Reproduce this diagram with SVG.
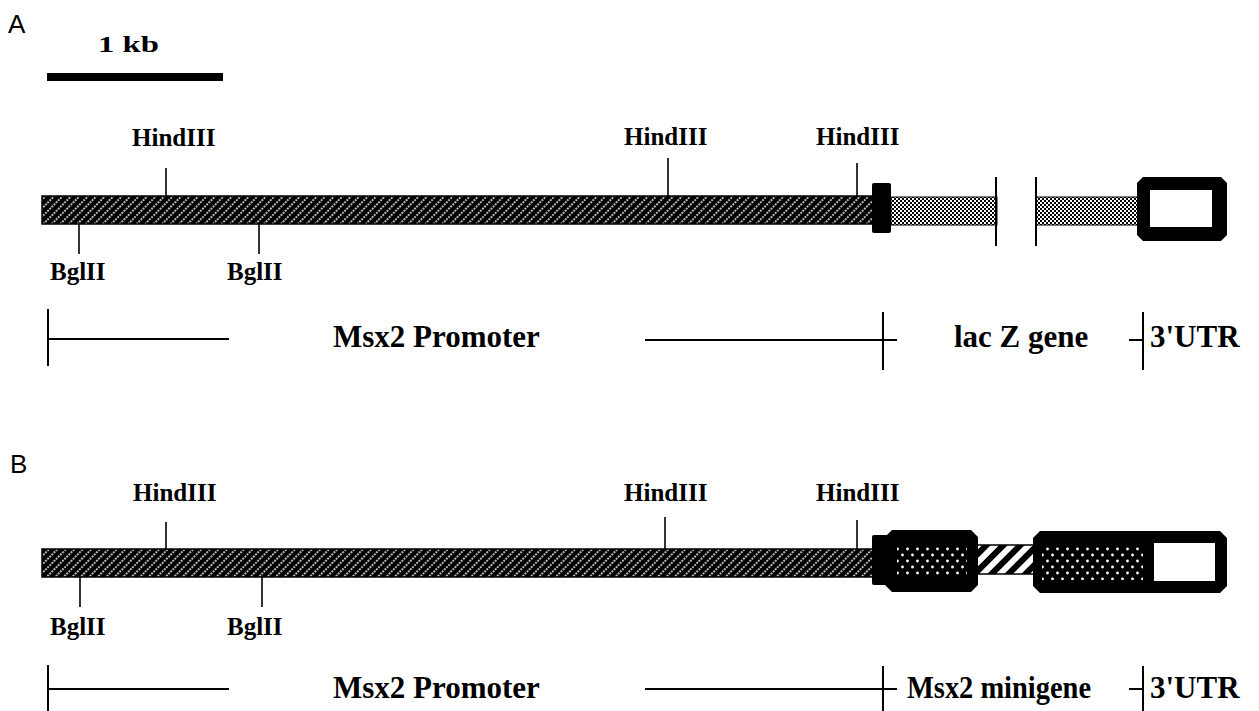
<svg xmlns="http://www.w3.org/2000/svg" width="1259" height="711" viewBox="0 0 1259 711">
<style>
.lbl{font-family:"Liberation Serif","Times New Roman",serif;font-weight:bold;fill:#000}
.site{font-size:25px}
.big{font-size:31px}
.panel{font-family:"Liberation Sans",Arial,sans-serif;font-size:26px;fill:#000}
.ln{stroke:#000;stroke-width:2;fill:none}
.tk{stroke:#000;stroke-width:1.6;fill:none}
</style>
<defs>
<pattern id="hatch" width="6" height="6" patternUnits="userSpaceOnUse" patternTransform="rotate(45)">
<rect width="6" height="6" fill="#000"/>
<line x1="3" y1="0" x2="3" y2="6" stroke="#fff" stroke-width="1.4" stroke-dasharray="2 1"/>
</pattern>
<pattern id="checker" width="4" height="4" patternUnits="userSpaceOnUse">
<rect width="4" height="4" fill="#fff"/>
<rect width="2" height="2" fill="#000"/>
<rect x="2" y="2" width="2" height="2" fill="#000"/>
</pattern>
<pattern id="dots" width="10" height="12" patternUnits="userSpaceOnUse">
<rect width="10" height="12" fill="#000"/>
<circle cx="2.5" cy="3" r="1.4" fill="#fff"/>
<circle cx="7.5" cy="9" r="1.4" fill="#fff"/>
</pattern>
<pattern id="stripes" width="12" height="12" patternUnits="userSpaceOnUse" patternTransform="rotate(45)">
<rect width="12" height="12" fill="#fff"/>
<rect x="0" y="0" width="6" height="12" fill="#000"/>
</pattern>
</defs>
<rect width="1259" height="711" fill="#fff"/>

<g id="panelA">
<text class="panel" x="8" y="33">A</text>
<g id="scalebar">
<rect x="47" y="73" width="176" height="8" fill="#000"/>
<text class="lbl" x="98" y="52" font-size="23" textLength="61" lengthAdjust="spacingAndGlyphs">1 kb</text>
</g>
<g id="A-promoter">
<rect x="42" y="196" width="835" height="28" fill="url(#hatch)" stroke="#000" stroke-width="1.5"/>
</g>
<g id="A-sites">
<line class="tk" x1="166" y1="168" x2="166" y2="196"/>
<line class="tk" x1="668" y1="158" x2="668" y2="196"/>
<line class="tk" x1="857" y1="163" x2="857" y2="196"/>
<line class="tk" x1="79" y1="224" x2="79" y2="254"/>
<line class="tk" x1="259" y1="224" x2="259" y2="254"/>
<text class="lbl site" x="132" y="146">HindIII</text>
<text class="lbl site" x="624" y="145">HindIII</text>
<text class="lbl site" x="816" y="145">HindIII</text>
<text class="lbl site" x="50" y="280">BglII</text>
<text class="lbl site" x="227" y="280">BglII</text>
</g>
<g id="A-lacZ">
<rect x="891" y="197" width="106" height="28" fill="url(#checker)" stroke="#000" stroke-width="1"/>
<rect x="1036" y="197" width="105" height="28" fill="url(#checker)" stroke="#000" stroke-width="1"/>
<line class="ln" x1="996" y1="177" x2="996" y2="246"/>
<line class="ln" x1="1036" y1="177" x2="1036" y2="246"/>
<rect x="872" y="183" width="19" height="50" rx="2" fill="#000"/>
</g>
<g id="A-utr">
<polygon points="1143,177 1221,177 1227,183 1227,235 1221,241 1143,241 1137,235 1137,183" fill="#000"/>
<rect x="1150" y="190" width="62" height="37" fill="#fff"/>
</g>
<g id="A-labels">
<line class="ln" x1="48" y1="309" x2="48" y2="366"/>
<line class="ln" x1="48" y1="339" x2="229" y2="339"/>
<text class="lbl big" x="333" y="347">Msx2 Promoter</text>
<line class="ln" x1="645" y1="340" x2="897" y2="340"/>
<line class="ln" x1="883" y1="312" x2="883" y2="370"/>
<text class="lbl big" x="954" y="347">lac Z gene</text>
<line class="ln" x1="1129" y1="340" x2="1143" y2="340"/>
<line class="ln" x1="1143" y1="312" x2="1143" y2="370"/>
<text class="lbl big" x="1150" y="347">3'UTR</text>
</g>
</g>

<g id="panelB">
<text class="panel" x="10" y="473">B</text>
<g id="B-promoter">
<rect x="42" y="549" width="835" height="28" fill="url(#hatch)" stroke="#000" stroke-width="1.5"/>
</g>
<g id="B-sites">
<line class="tk" x1="166" y1="522" x2="166" y2="549"/>
<line class="tk" x1="665" y1="517" x2="665" y2="549"/>
<line class="tk" x1="857" y1="520" x2="857" y2="549"/>
<line class="tk" x1="80" y1="577" x2="80" y2="607"/>
<line class="tk" x1="262" y1="577" x2="262" y2="607"/>
<text class="lbl site" x="133" y="501">HindIII</text>
<text class="lbl site" x="624" y="501">HindIII</text>
<text class="lbl site" x="816" y="501">HindIII</text>
<text class="lbl site" x="50" y="635">BglII</text>
<text class="lbl site" x="227" y="635">BglII</text>
</g>
<g id="B-minigene">
<rect x="970" y="545" width="68" height="29" fill="url(#stripes)" stroke="#000" stroke-width="1.5"/>
<rect x="872" y="535" width="16" height="50" rx="2" fill="#000"/>
<polygon points="892,530 971,530 978,537 978,585 971,592 892,592 885,585 885,537" fill="#000"/>
<rect x="897" y="545" width="70" height="32" fill="url(#dots)"/>
<polygon points="1040,531 1220,531 1227,538 1227,586 1220,593 1040,593 1033,586 1033,538" fill="#000"/>
<rect x="1042" y="545" width="101" height="35" fill="url(#dots)"/>
<rect x="1154" y="543" width="61" height="38" fill="#fff"/>
</g>
<g id="B-labels">
<line class="ln" x1="48" y1="665" x2="48" y2="711"/>
<line class="ln" x1="48" y1="689" x2="229" y2="689"/>
<text class="lbl big" x="333" y="698">Msx2 Promoter</text>
<line class="ln" x1="645" y1="689" x2="897" y2="689"/>
<line class="ln" x1="883" y1="666" x2="883" y2="711"/>
<text class="lbl big" x="907" y="698" textLength="184" lengthAdjust="spacingAndGlyphs">Msx2 minigene</text>
<line class="ln" x1="1129" y1="689" x2="1143" y2="689"/>
<line class="ln" x1="1143" y1="666" x2="1143" y2="711"/>
<text class="lbl big" x="1150" y="698">3'UTR</text>
</g>
</g>
</svg>
